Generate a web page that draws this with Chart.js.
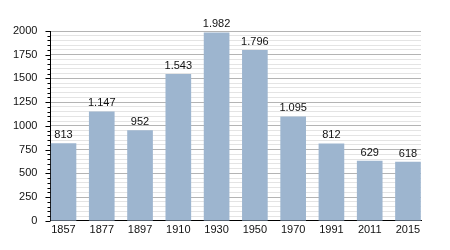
<!DOCTYPE html>
<html lang="de">
<head>
<meta charset="utf-8">
<script src="https://cdn.jsdelivr.net/npm/chart.js@4.4.0/dist/chart.umd.min.js"></script>
<style>
  html, body { margin: 0; padding: 0; background: #fff; }
  #box { width: 450px; height: 250px; }
</style>
</head>
<body>
<div id="box"><canvas id="plot" width="450" height="250"></canvas></div>
<script>
const years = ['1857', '1877', '1897', '1910', '1930', '1950', '1970', '1991', '2011', '2015'];
const population = [813, 1147, 952, 1543, 1982, 1796, 1095, 812, 629, 618];
const yMax = 2000;
const yMinorStep = 50;
const yMajorStep = 250;

function fmt(n) {
    return String(n).replace(/\B(?=(\d{3})+(?!\d))/g, '.');
}

// numbers above bars
const valueLabels = {
    id: 'valueLabels',
    afterDatasetsDraw(chart) {
        const ctx = chart.ctx;
        const meta = chart.getDatasetMeta(0);
        ctx.save();
        ctx.font = '11px "Liberation Sans", Arial, sans-serif';
        ctx.fillStyle = '#111';
        ctx.textAlign = 'center';
        ctx.textBaseline = 'bottom';
        meta.data.forEach((bar, i) => {
            ctx.fillText(fmt(population[i]), bar.x, bar.y - 3);
        });
        ctx.restore();
    }
};

// black tick marks on the y axis, long on major, short on minor
const yTickMarks = {
    id: 'yTickMarks',
    afterDraw(chart) {
        const ctx = chart.ctx;
        const scale = chart.scales.y;
        const left = chart.chartArea.left;
        ctx.save();
        ctx.strokeStyle = '#000';
        ctx.lineWidth = 1;
        scale.ticks.forEach((t) => {
            const y = Math.round(scale.getPixelForValue(t.value)) + 0.5;
            const len = t.value % yMajorStep === 0 ? 5 : 3;
            ctx.beginPath();
            ctx.moveTo(left - len, y);
            ctx.lineTo(left, y);
            ctx.stroke();
        });
        ctx.restore();
    }
};

Chart.defaults.font.family = '"Liberation Sans", Arial, sans-serif';
Chart.defaults.font.size = 11;
Chart.defaults.color = '#111';

new Chart(document.getElementById('plot').getContext('2d'), {
    type: 'bar',
    data: {
        datasets: [{
            data: population.map((v, i) => ({ x: i, y: v })),
            backgroundColor: '#9db5cf',
            barThickness: 25
        }]
    },
    options: {
        responsive: false,
        animation: false,
        maintainAspectRatio: false,
        layout: { padding: { top: 31, right: 29, bottom: 10, left: 0 } },
        plugins: { legend: { display: false }, tooltip: { enabled: false } },
        scales: {
            x: {
                type: 'linear',
                offset: false,
                min: -0.34,
                max: years.length - 1 + 0.34,
                afterBuildTicks: (axis) => { axis.ticks = years.map((_, i) => ({ value: i })); },
                ticks: {
                    autoSkip: false,
                    maxRotation: 0,
                    padding: 3,
                    callback: (v) => years[v]
                },
                grid: { display: false, drawTicks: false },
                border: { color: '#000', width: 1 }
            },
            y: {
                min: 0,
                max: yMax,
                ticks: {
                    stepSize: yMinorStep,
                    autoSkip: false,
                    padding: 13,
                    callback: (v) => (v % yMajorStep === 0 ? String(v) : '')
                },
                grid: {
                    drawTicks: false,
                    color: (c) => (c.tick && c.tick.value % yMajorStep === 0 ? '#b4b4b4' : '#e4e4e4')
                },
                border: { color: '#000', width: 1 }
            }
        }
    },
    plugins: [valueLabels, yTickMarks]
});
</script>
</body>
</html>
